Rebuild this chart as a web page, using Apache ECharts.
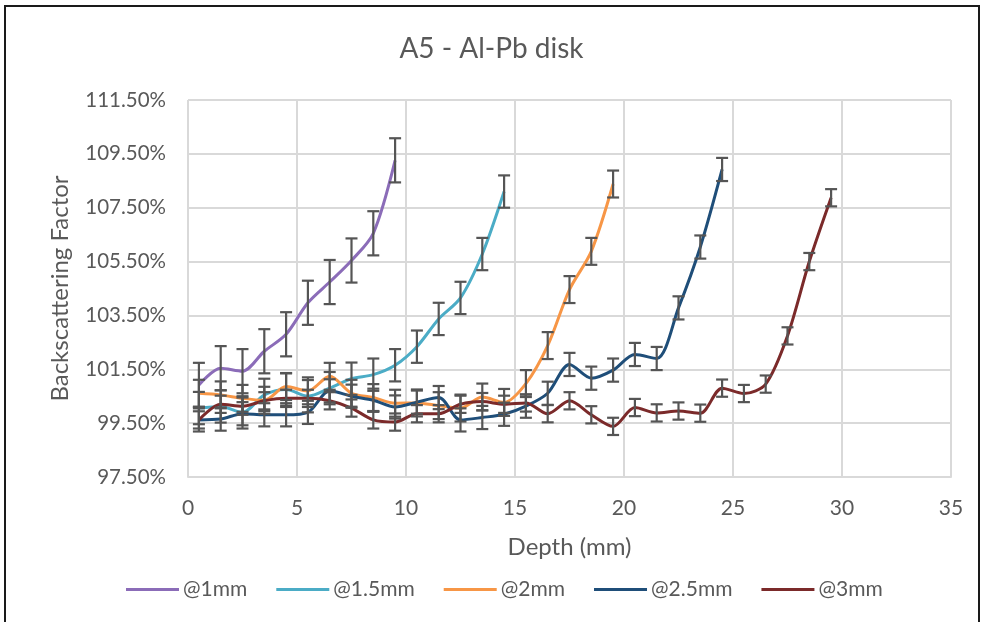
<!DOCTYPE html>
<html>
<head>
<meta charset="utf-8">
<script src="https://cdn.jsdelivr.net/npm/echarts@6/dist/echarts.min.js"></script>
<style>
  html, body { margin: 0; padding: 0; background: #fff; }
  #wrap { position: relative; width: 983px; height: 622px; overflow: hidden; }
  #frame { position: absolute; left: 4px; top: 5px; width: 976px; height: 640px; border: 2px solid #1a1a1a; box-sizing: border-box; }
  #chart { position: absolute; left: 0; top: 0; width: 983px; height: 622px; }
</style>
</head>
<body>
<div id="wrap">
  <div id="frame"></div>
  <div id="chart"></div>
</div>
<script>
// Measurement depths (mm)
const depths = [0.5, 1.5, 2.5, 3.5, 4.5, 5.5, 6.5, 7.5, 8.5, 9.5,
                10.5, 11.5, 12.5, 13.5, 14.5, 15.5, 16.5, 17.5, 18.5, 19.5,
                20.5, 21.5, 22.5, 23.5, 24.5, 25.5, 26.5, 27.5, 28.5, 29.5];

// Backscattering factor (%) for each lead-insert depth
const at1mm   = [100.92, 101.54, 101.43, 102.17, 102.80, 103.97, 104.74, 105.54, 106.55, 109.26];
const at15mm  = [100.06, 100.12, 99.90, 100.55, 100.75, 100.50, 100.80, 101.15, 101.30, 101.65,
                 102.34, 103.37, 104.15, 105.78, 108.10];
const at2mm   = [100.61, 100.55, 100.42, 100.35, 100.86, 100.70, 101.24, 100.61, 100.45, 100.24,
                 100.25, 100.15, 100.06, 100.47, 100.27, 100.97, 102.38, 104.46, 105.88, 108.38];
const at25mm  = [99.62, 99.65, 99.85, 99.81, 99.81, 99.90, 100.70, 100.50, 100.35, 100.10,
                 100.28, 100.45, 99.62, 99.71, 99.83, 100.13, 100.61, 101.68, 101.17, 101.47,
                 102.05, 101.90, 103.78, 106.04, 108.92];
const at3mm   = [99.62, 100.20, 100.13, 100.33, 100.42, 100.42, 100.33, 100.06, 99.62, 99.54,
                 99.85, 99.85, 100.20, 100.30, 100.20, 100.25, 99.85, 100.33, 99.81, 99.38,
                 100.08, 99.88, 99.95, 99.87, 100.80, 100.60, 100.95, 102.74, 105.50, 107.87];

// Uncertainty (± %) per series
const errors = [0.82, 0.60, 0.50, 0.43, 0.32];

const seriesNames = ['@1mm', '@1.5mm', '@2mm', '@2.5mm', '@3mm'];
const seriesValues = [at1mm, at15mm, at2mm, at25mm, at3mm];
const colors = ['#8B6CB8', '#4BACC6', '#F79646', '#1F4E79', '#7B2A2A'];

// Axis ticks
const yTicks = [97.5, 99.5, 101.5, 103.5, 105.5, 107.5, 109.5, 111.5];
const xTicks = [0, 5, 10, 15, 20, 25, 30, 35];

const FONT = 'Lato';
const TEXT = '#595959';
const GRID = '#D9D9D9';

function errorBarItem(params, api) {
  const x = api.value(0);
  const lo = api.coord([x, api.value(1)]);
  const hi = api.coord([x, api.value(2)]);
  const hw = 6;
  const st = { stroke: '#555555', lineWidth: 2.2 };
  return {
    type: 'group',
    children: [
      { type: 'line', shape: { x1: lo[0], y1: lo[1], x2: hi[0], y2: hi[1] }, style: st },
      { type: 'line', shape: { x1: lo[0] - hw, y1: lo[1], x2: lo[0] + hw, y2: lo[1] }, style: st },
      { type: 'line', shape: { x1: hi[0] - hw, y1: hi[1], x2: hi[0] + hw, y2: hi[1] }, style: st }
    ]
  };
}

const series = [];
seriesValues.forEach((vals, i) => {
  series.push({
    name: seriesNames[i],
    type: 'line',
    data: vals.map((v, k) => [depths[k], v]),
    smooth: 0.3,
    symbol: 'none',
    lineStyle: { width: 3, color: colors[i] },
    itemStyle: { color: colors[i] },
    z: 3
  });
  series.push({
    name: seriesNames[i] + ' error',
    type: 'custom',
    renderItem: errorBarItem,
    encode: { x: 0, y: [1, 2] },
    data: vals.map((v, k) => [depths[k], v - errors[i], v + errors[i]]),
    z: 4,
    silent: true
  });
});

const chart = echarts.init(document.getElementById('chart'), null, { renderer: 'canvas' });
chart.setOption({
  animation: false,
  backgroundColor: 'transparent',
  title: {
    text: 'A5 - Al-Pb disk',
    left: 'center',
    top: 30,
    textStyle: { fontFamily: FONT, fontSize: 28, fontWeight: 'normal', color: TEXT }
  },
  legend: {
    data: seriesNames,
    left: 121,
    top: 574,
    icon: 'rect',
    itemWidth: 53,
    itemHeight: 3,
    itemGap: 29,
    textStyle: { fontFamily: FONT, fontSize: 21, color: TEXT, padding: [0, 0, 0, -1] }
  },
  grid: { left: 188, right: 32, top: 100, bottom: 145, containLabel: false },
  xAxis: {
    type: 'value',
    min: 0,
    max: 35,
    interval: 5,
    name: 'Depth (mm)',
    nameLocation: 'middle',
    nameGap: 58,
    nameTextStyle: { fontFamily: FONT, fontSize: 24, color: TEXT },
    axisLine: { show: true, lineStyle: { color: GRID, width: 2 } },
    axisTick: { show: false },
    axisLabel: { fontFamily: FONT, fontSize: 21, color: TEXT, margin: 21, customValues: xTicks },
    splitLine: { show: true, lineStyle: { color: GRID, width: 2 } }
  },
  yAxis: {
    type: 'value',
    min: 97.5,
    max: 111.5,
    name: 'Backscattering Factor',
    nameLocation: 'middle',
    nameGap: 116,
    nameTextStyle: { fontFamily: FONT, fontSize: 24, color: TEXT },
    axisLine: { show: false },
    axisTick: { show: false, customValues: yTicks },
    axisLabel: {
      fontFamily: FONT, fontSize: 20.5, color: TEXT, margin: 22,
      customValues: yTicks,
      formatter: v => v.toFixed(2) + '%'
    },
    splitLine: { show: true, lineStyle: { color: GRID, width: 2 } }
  },
  series: series
});
</script>
</body>
</html>
